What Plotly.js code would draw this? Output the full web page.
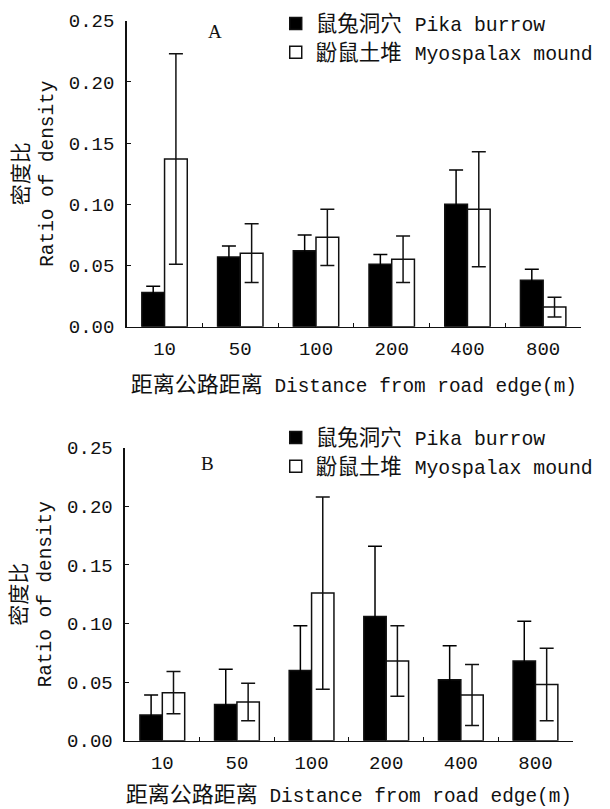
<!DOCTYPE html>
<html>
<head>
<meta charset="utf-8">
<script src="https://cdn.plot.ly/plotly-3.0.1.min.js"></script>
<style>html,body{margin:0;padding:0;background:#fff;}</style>
</head>
<body>
<div id="chart" style="width:610px;height:809px;"></div>
<script>
// Categories: distance from road edge (m)
var categories = ['10', '50', '100', '200', '400', '800'];

// Panel A
var pikaA     = [0.028, 0.057, 0.062, 0.051, 0.100, 0.038];
var pikaAErr  = [0.005, 0.009, 0.013, 0.008, 0.028, 0.009];
var myoA      = [0.137, 0.060, 0.073, 0.055, 0.096, 0.016];
var myoAErr   = [0.086, 0.024, 0.023, 0.019, 0.047, 0.008];

// Panel B
var pikaB     = [0.022, 0.031, 0.060, 0.106, 0.052, 0.068];
var pikaBErr  = [0.017, 0.030, 0.038, 0.060, 0.029, 0.034];
var myoB      = [0.041, 0.033, 0.126, 0.068, 0.039, 0.048];
var myoBErr   = [0.018, 0.016, 0.082, 0.030, 0.026, 0.031];

var seriesCn = ['鼠兔洞穴', '鼢鼠土堆'];
var seriesEn = ['Pika burrow', 'Myospalax mound'];
var yTicks = [0, 0.05, 0.10, 0.15, 0.20, 0.25];

var FONT = 'Liberation Mono, "Noto Sans CJK SC", monospace';
var INK = '#111';

function legendName(i) {
  return '<span style="font-size:21.5px">' + seriesCn[i] + ' </span>' + seriesEn[i];
}

function bar(i, y, err, fill, xa, ya, lg) {
  return {
    type: 'bar', name: legendName(i), x: categories, y: y,
    xaxis: xa, yaxis: ya, legend: lg,
    marker: {color: fill, line: {color: INK, width: 1.5}},
    error_y: {type: 'data', array: err, visible: true,
              color: i === 0 ? '#000000' : INK, thickness: 1.5, width: 7}
  };
}

var data = [
  bar(0, pikaA, pikaAErr, '#000000', 'x', 'y', 'legend'),
  bar(1, myoA, myoAErr, '#ffffff', 'x', 'y', 'legend'),
  bar(0, pikaB, pikaBErr, '#000000', 'x2', 'y2', 'legend2'),
  bar(1, myoB, myoBErr, '#ffffff', 'x2', 'y2', 'legend2')
];

var xTitle = '\u00a0<span style="font-size:22px">距离公路距离</span> Distance from road edge(m)';
var yTitle = '<span style="font-size:21px">密度比</span><br>Ratio of density';

function xAxis(domain, anchor) {
  return {
    domain: domain, anchor: anchor, type: 'category',
    categoryorder: 'array', categoryarray: categories,
    showline: true, linecolor: INK, linewidth: 1.5,
    ticks: 'inside', tickson: 'boundaries', ticklen: 4, tickcolor: INK, tickwidth: 1,
    ticklabelstandoff: 4,
    showgrid: false, zeroline: false,
    tickfont: {family: FONT, size: 19, color: INK},
    title: {text: xTitle, font: {family: FONT, size: 19.4, color: INK}, standoff: 18}
  };
}
function yAxis(domain, anchor) {
  return {
    domain: domain, anchor: anchor, range: [0, 0.25],
    tickvals: yTicks, tickformat: '.2f',
    showline: true, linecolor: INK, linewidth: 1.5,
    ticks: 'inside', ticklen: 4, tickcolor: INK, tickwidth: 1,
    ticklabelstandoff: 7,
    showgrid: false, zeroline: false,
    tickfont: {family: FONT, size: 19, color: INK},
    title: {text: yTitle, font: {family: FONT, size: 19.4, color: INK}, standoff: 10}
  };
}

var legendStyle = function (y) {
  return {
    x: 0.452, y: y, xanchor: 'left', yanchor: 'top',
    bgcolor: 'rgba(0,0,0,0)', borderwidth: 0,
    font: {family: FONT, size: 19.8, color: INK},
    traceorder: 'normal'
  };
};

var layout = {
  width: 610, height: 809,
  margin: {l: 0, r: 0, t: 0, b: 0},
  paper_bgcolor: '#ffffff', plot_bgcolor: '#ffffff',
  font: {family: FONT, color: INK},
  barmode: 'group', bargap: 0.4, bargroupgap: 0,
  showlegend: true,
  xaxis:  xAxis([0.2077, 0.9525], 'y'),
  yaxis:  yAxis([0.5962, 0.9744], 'x'),
  xaxis2: xAxis([0.2049, 0.9390], 'y2'),
  yaxis2: yAxis([0.0844, 0.4466], 'x2'),
  legend: legendStyle(0.995),
  legend2: legendStyle(0.4831),
  annotations: [
    {text: 'A', xref: 'paper', yref: 'paper', x: 215 / 610, y: 1 - 32 / 809,
     xanchor: 'center', yanchor: 'middle', showarrow: false,
     font: {family: 'Liberation Serif', size: 19, color: INK}},
    {text: 'B', xref: 'paper', yref: 'paper', x: 207 / 610, y: 1 - 463 / 809,
     xanchor: 'center', yanchor: 'middle', showarrow: false,
     font: {family: 'Liberation Serif', size: 19, color: INK}}
  ]
};

Plotly.newPlot('chart', data, layout, {displayModeBar: false, staticPlot: true});
</script>
</body>
</html>
